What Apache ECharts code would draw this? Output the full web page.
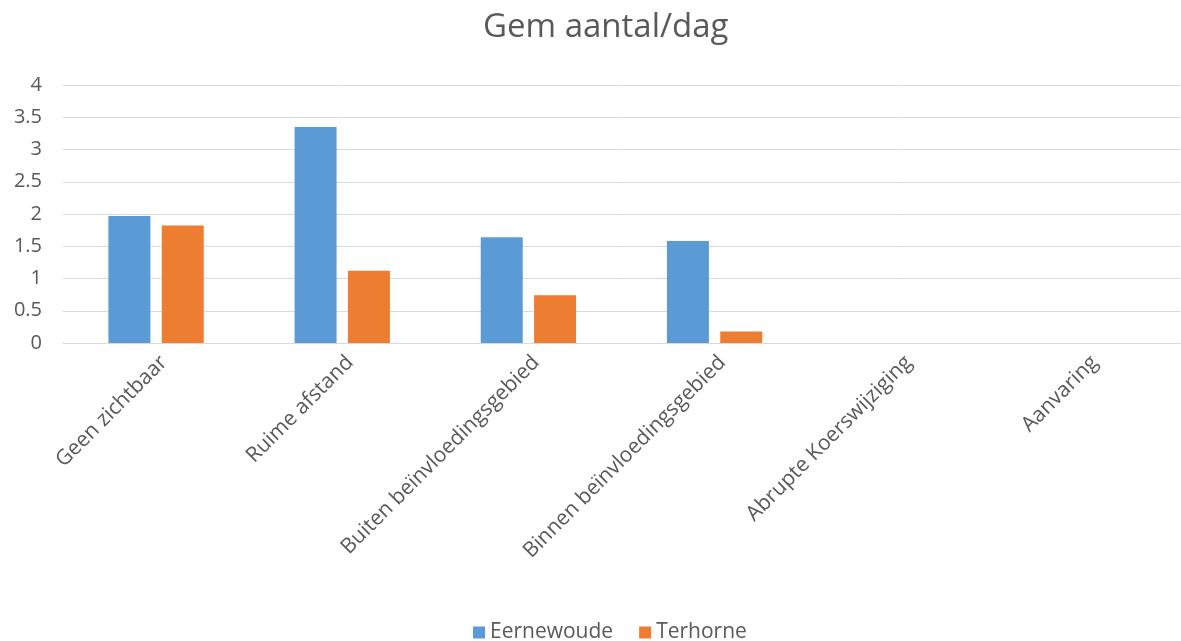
<!DOCTYPE html>
<html>
<head>
<meta charset="utf-8">
<script src="https://cdn.jsdelivr.net/npm/echarts@6/dist/echarts.min.js"></script>
<style>
  html, body { margin: 0; padding: 0; background: #fff; }
  #chart { width: 1181px; height: 641px; }
</style>
</head>
<body>
<div id="chart"></div>
<script>
const categories = [
  'Geen zichtbaar',
  'Ruime afstand',
  'Buiten beïnvloedingsgebied',
  'Binnen beïnvloedingsgebied',
  'Abrupte Koerswijziging',
  'Aanvaring'
];
const eernewoude = [1.97, 3.35, 1.64, 1.58, 0, 0];
const terhorne = [1.82, 1.12, 0.74, 0.18, 0, 0];

const FONT = '"Open Sans", "Noto Sans", sans-serif';
const TEXT = '#595959';

const chart = echarts.init(document.getElementById('chart'), null, { renderer: 'canvas' });
chart.setOption({
  animation: false,
  backgroundColor: '#ffffff',
  title: {
    text: 'Gem aantal/dag',
    left: 478,
    top: 6,
    textStyle: { fontFamily: FONT, fontSize: 33, fontWeight: 'normal', color: TEXT }
  },
  legend: {
    top: 617,
    left: 468,
    itemWidth: 12,
    itemHeight: 12,
    itemGap: 26,
    icon: 'rect',
    textStyle: { fontFamily: FONT, fontSize: 21, color: TEXT },
    data: ['Eernewoude', 'Terhorne']
  },
  grid: { left: 63, right: 1, top: 85, bottom: 298, containLabel: false },
  xAxis: {
    type: 'category',
    data: categories,
    axisTick: { show: false },
    axisLine: { show: true, lineStyle: { color: '#d9d9d9', width: 1 } },
    axisLabel: {
      rotate: 45,
      margin: 24,
      padding: [0, -11, 0, 0],
      interval: 0,
      fontFamily: FONT,
      fontSize: 21,
      color: TEXT
    }
  },
  yAxis: {
    type: 'value',
    min: 0,
    max: 4,
    interval: 0.5,
    axisLine: { show: false },
    axisTick: { show: false },
    splitLine: { lineStyle: { color: '#d9d9d9', width: 1 } },
    axisLabel: { margin: 21, fontFamily: FONT, fontSize: 20, color: TEXT }
  },
  series: [
    {
      name: 'Eernewoude',
      type: 'bar',
      data: eernewoude,
      barWidth: 42,
      barGap: '27%',
      itemStyle: { color: '#5B9BD5' }
    },
    {
      name: 'Terhorne',
      type: 'bar',
      data: terhorne,
      barWidth: 42,
      barGap: '27%',
      itemStyle: { color: '#ED7D31' }
    }
  ]
});
</script>
</body>
</html>
